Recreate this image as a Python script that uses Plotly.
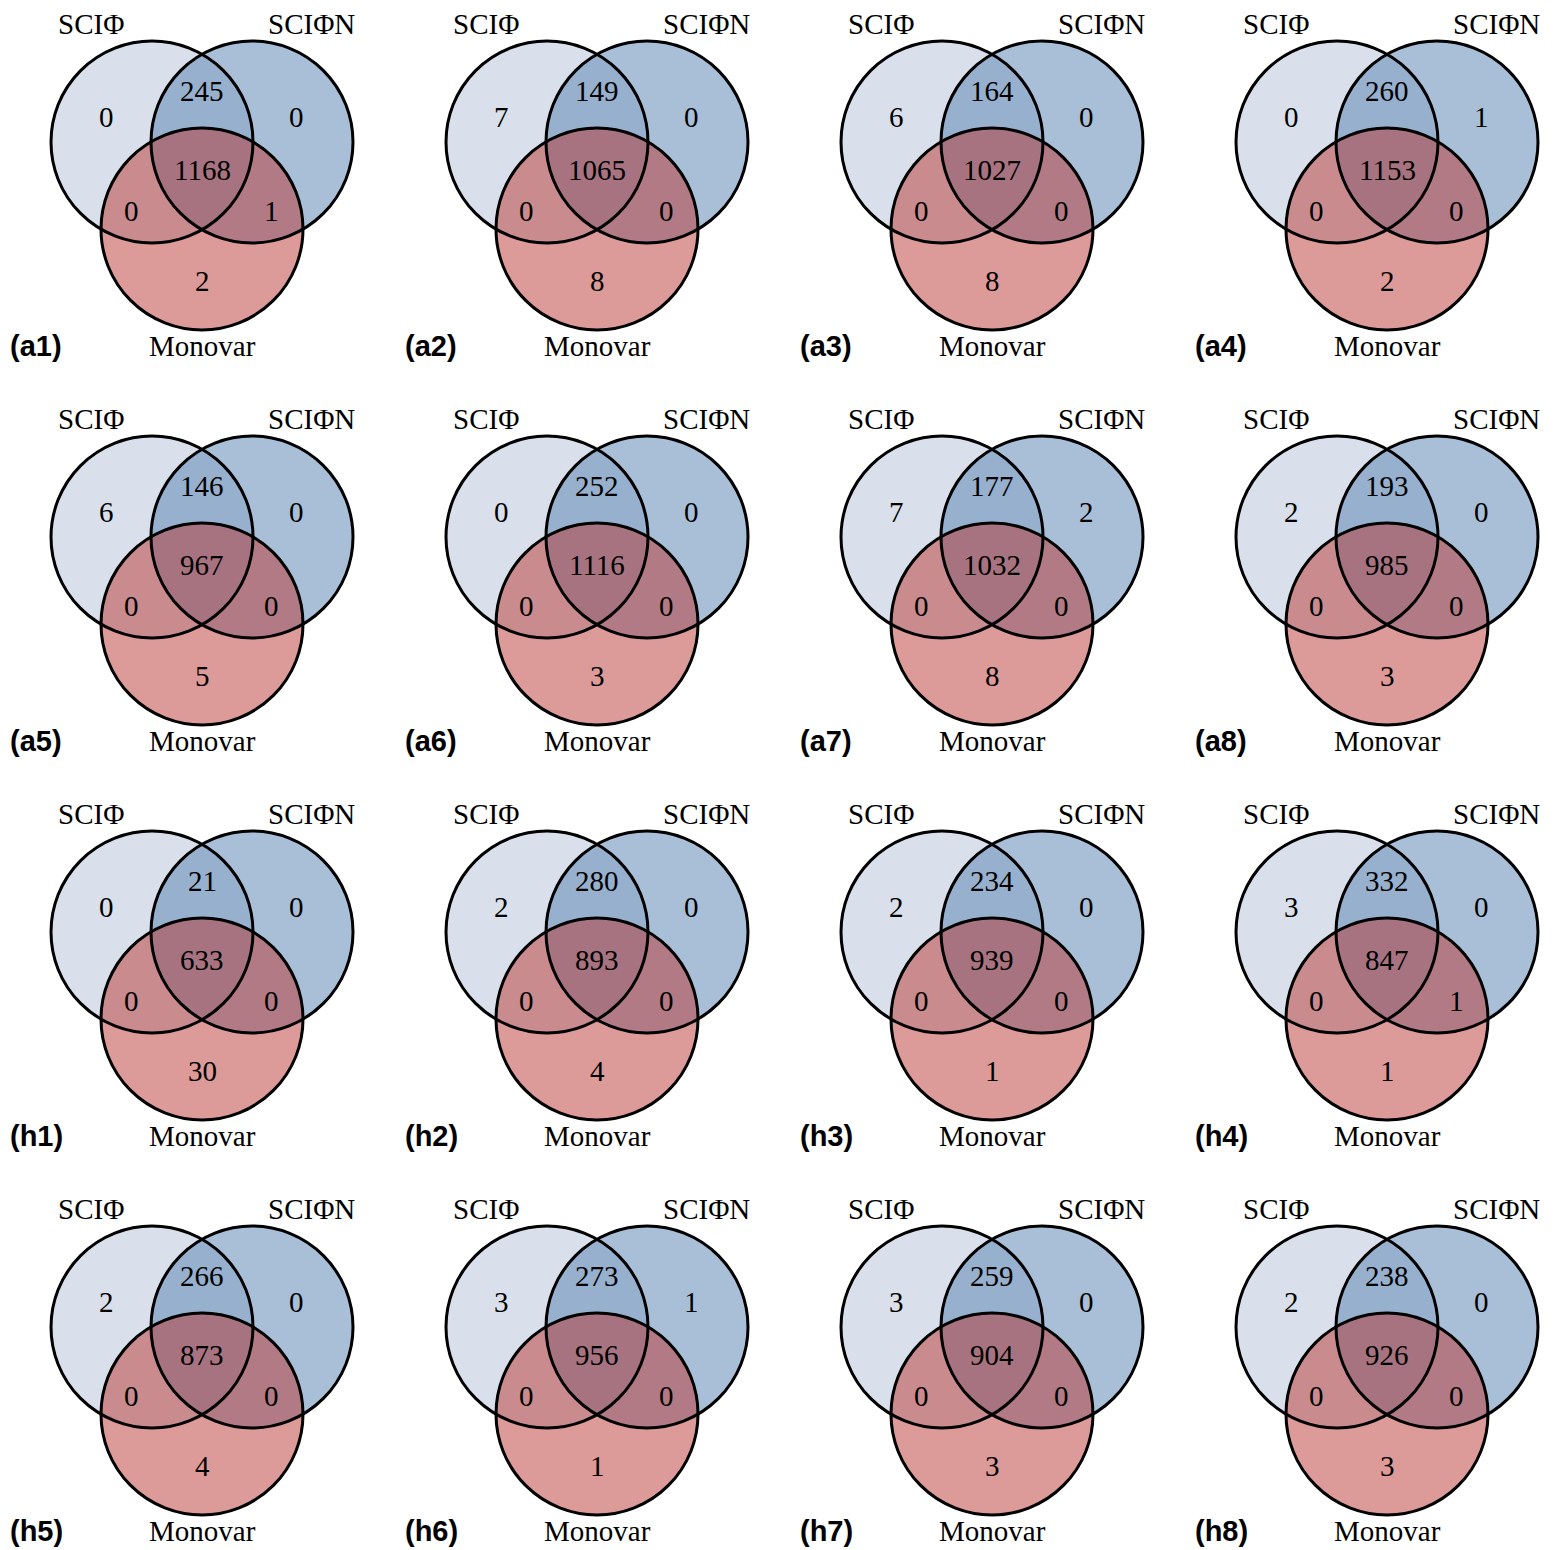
import plotly.graph_objects as go

# ---- data ----
panel_names = ["(a1)", "(a2)", "(a3)", "(a4)", "(a5)", "(a6)", "(a7)", "(a8)",
               "(h1)", "(h2)", "(h3)", "(h4)", "(h5)", "(h6)", "(h7)", "(h8)"]
set_names = ["SCIΦ", "SCIΦN", "Monovar"]
# region counts per panel
only_sciphi   = [0, 7, 6, 0, 6, 0, 7, 2, 0, 2, 2, 3, 2, 3, 3, 2]
only_sciphin  = [0, 0, 0, 1, 0, 0, 2, 0, 0, 0, 0, 0, 0, 1, 0, 0]
sciphi_sciphin = [245, 149, 164, 260, 146, 252, 177, 193, 21, 280, 234, 332, 266, 273, 259, 238]
all_three     = [1168, 1065, 1027, 1153, 967, 1116, 1032, 985, 633, 893, 939, 847, 873, 956, 904, 926]
sciphi_monovar = [0, 0, 0, 0, 0, 0, 0, 0, 0, 0, 0, 0, 0, 0, 0, 0]
sciphin_monovar = [1, 0, 0, 0, 0, 0, 0, 0, 0, 0, 0, 1, 0, 0, 0, 0]
only_monovar  = [2, 8, 8, 2, 5, 3, 8, 3, 30, 4, 1, 1, 4, 1, 3, 3]

# ---- layout constants ----
PAGE_OFF = 8               # default body margin of the html page
W, H = 1555 - PAGE_OFF, 1550 - PAGE_OFF
PITCH = 395
R = 101
centers = [(152, 142), (252, 142), (202, 229)]
fills = ["rgba(179,193,215,0.5)", "rgba(83,127,177,0.5)", "rgba(185,53,49,0.5)"]
SERIF = "Liberation Serif, Times New Roman, serif"
SANS = "Liberation Sans, Arial, sans-serif"
FS = 29

fig = go.Figure()
fig.add_trace(go.Scatter(x=[PAGE_OFF, 1555], y=[PAGE_OFF, 1550], mode="markers",
                         marker=dict(opacity=0), hoverinfo="skip"))
shapes, annotations = [], []

for k in range(16):
    row, col = divmod(k, 4)
    ox, oy = col * PITCH, row * PITCH
    for (cx, cy), fc in zip(centers, fills):
        shapes.append(dict(type="circle", xref="x", yref="y",
                           x0=ox + cx - R, x1=ox + cx + R, y0=oy + cy - R, y1=oy + cy + R,
                           fillcolor=fc, line=dict(width=0), layer="below"))
    for (cx, cy) in centers:
        shapes.append(dict(type="circle", xref="x", yref="y",
                           x0=ox + cx - R, x1=ox + cx + R, y0=oy + cy - R, y1=oy + cy + R,
                           fillcolor="rgba(0,0,0,0)",
                           line=dict(color="black", width=3), layer="above"))
    region_vals = [only_sciphi[k], only_sciphin[k], sciphi_sciphin[k], all_three[k],
                   sciphi_monovar[k], sciphin_monovar[k], only_monovar[k]]
    region_pos = [(106, 117), (296, 117), (202, 91), (202, 170), (131, 211), (271, 211), (202, 281)]
    for v, (px, py) in zip(region_vals, region_pos):
        annotations.append(dict(x=ox + px, y=oy + py, xref="x", yref="y", text=str(v),
                                showarrow=False,
                                font=dict(family=SERIF, size=FS, color="black"),
                                xanchor="center", yanchor="middle"))
    for name, (px, py) in zip(set_names, [(91, 24), (311, 24), (202, 346)]):
        annotations.append(dict(x=ox + px, y=oy + py, xref="x", yref="y", text=name,
                                showarrow=False,
                                font=dict(family=SERIF, size=FS, color="black"),
                                xanchor="center", yanchor="middle"))
    annotations.append(dict(x=ox + 8, y=oy + 346, xref="x", yref="y",
                            text="<b>%s</b>" % panel_names[k], showarrow=False,
                            font=dict(family=SANS, size=29, color="black"),
                            xanchor="left", yanchor="middle"))

fig.update_layout(
    width=W, height=H, margin=dict(l=0, r=0, t=0, b=0),
    paper_bgcolor="white", plot_bgcolor="white", showlegend=False,
    xaxis=dict(range=[PAGE_OFF, 1555], visible=False, fixedrange=True),
    yaxis=dict(range=[1550, PAGE_OFF], visible=False, fixedrange=True),
    shapes=shapes, annotations=annotations,
)
fig.write_html("out.html")
